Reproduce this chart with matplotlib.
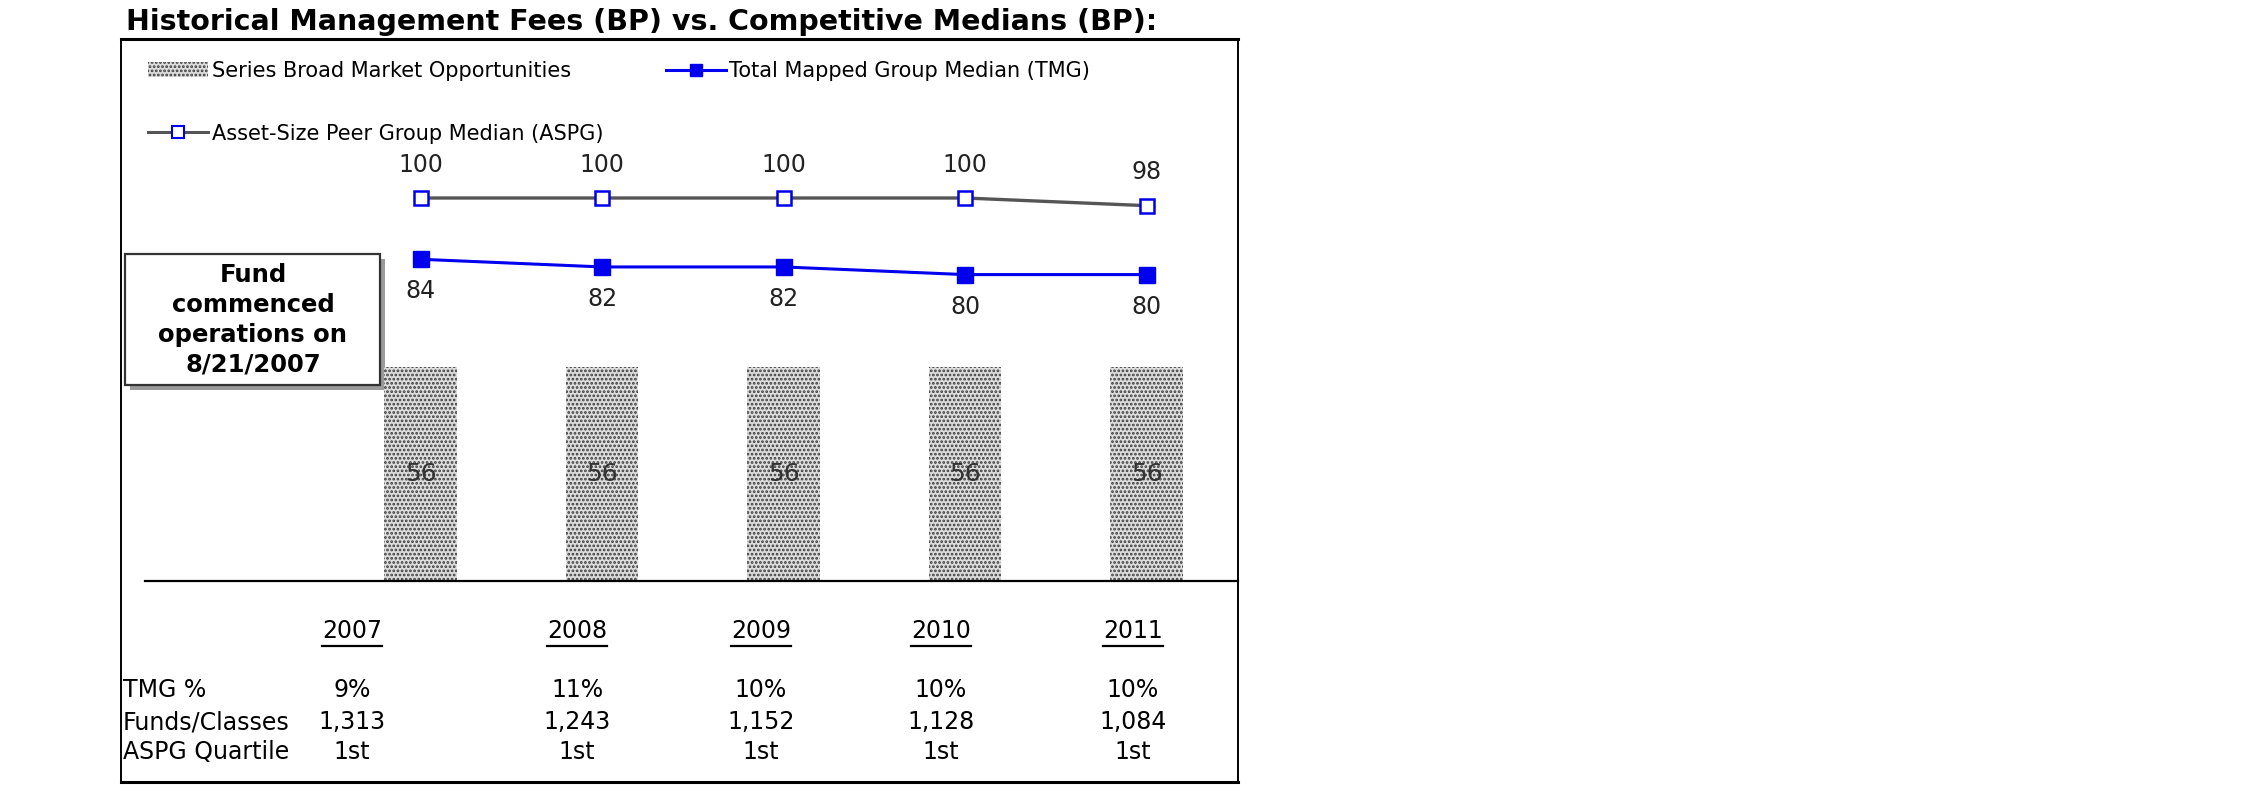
import matplotlib
matplotlib.use("Agg")
import matplotlib.pyplot as plt
from matplotlib.lines import Line2D
from matplotlib.patches import Patch, Rectangle
import numpy as np

plt.rcParams['font.family'] = ['DejaVu Sans']
plt.rcParams['hatch.linewidth'] = 1.3

# ---------------------------------------------------------------------------
# Data
# ---------------------------------------------------------------------------
YEARS = ['2007', '2008', '2009', '2010', '2011']
FUND_FEES = [56, 56, 56, 56, 56]          # Series Broad Market Opportunities
TMG_MEDIAN = [84, 82, 82, 80, 80]         # Total Mapped Group Median
ASPG_MEDIAN = [100, 100, 100, 100, 98]    # Asset-Size Peer Group Median

ROW_LABELS = ['TMG %', 'Funds/Classes', 'ASPG Quartile']
TMG_PCT = ['9%', '11%', '10%', '10%', '10%']
FUNDS_CLASSES = ['1,313', '1,243', '1,152', '1,128', '1,084']
ASPG_QUARTILE = ['1st', '1st', '1st', '1st', '1st']

TITLE = 'Historical Management Fees (BP) vs. Competitive Medians (BP):'
NOTE = 'Fund\ncommenced\noperations on\n8/21/2007'

# ---------------------------------------------------------------------------
# Layout (pixels of a 2250x796 canvas)
# ---------------------------------------------------------------------------
W, H = 2250, 796
FRAME = dict(left=121, right=1238, top=39, bottom=782)
ZERO_Y = 581                 # pixel row of value 0
PX_PER_UNIT = 3.83
X0, DX = 420.5, 181.5        # pixel centre of first category, spacing
TABLE_COLS = [352, 577, 761, 941, 1133]
YEAR_Y = 631
ROW_Y = [690, 722, 752]
TABLE_FS = 17

fig = plt.figure(figsize=(W / 100, H / 100), dpi=100)

# overlay in pixel coordinates for frame, table and note
ov = fig.add_axes([0, 0, 1, 1], zorder=0)
ov.set_xlim(0, W)
ov.set_ylim(H, 0)
ov.axis('off')

# main data axes
ax_left, ax_right = FRAME['left'], FRAME['right']
ax_h = ZERO_Y - FRAME['top']
ax = fig.add_axes([ax_left / W, 1 - ZERO_Y / H,
                   (ax_right - ax_left) / W, ax_h / H], zorder=2)
ax.patch.set_alpha(0)
ax.set_xlim((ax_left - X0) / DX, (ax_right - X0) / DX)
ax.set_ylim(0, ax_h / PX_PER_UNIT)
ax.axis('off')

x = np.arange(len(YEARS))

ax.bar(x, FUND_FEES, width=0.40, facecolor='#dcdcdc', edgecolor='#3c3c3c',
       hatch='....', linewidth=0)
for xi, v in zip(x, FUND_FEES):
    ax.text(xi, v / 2, str(v), ha='center', va='center', fontsize=18,
            color='#333333', zorder=5)

ax.plot(x, ASPG_MEDIAN, color='#555555', lw=2.4, marker='s', ms=10,
        mfc='white', mec='#0000ee', mew=1.8, zorder=4)
ax.plot(x, TMG_MEDIAN, color='#0000ee', lw=2.2, marker='s', ms=12,
        mfc='#0000ee', mec='#0000ee', zorder=4)

for xi, v in zip(x, ASPG_MEDIAN):
    ax.annotate(str(v), (xi, v), xytext=(0, 24), textcoords='offset points',
                ha='center', va='center', fontsize=17, color='#222222')
for xi, v in zip(x, TMG_MEDIAN):
    ax.annotate(str(v), (xi, v), xytext=(0, -23), textcoords='offset points',
                ha='center', va='center', fontsize=17, color='#222222')

# horizontal axis line
ax.axhline(0, xmin=(145 - ax_left) / (ax_right - ax_left), xmax=1,
           color='black', lw=1.6, clip_on=False)

# legend
handles = [
    Patch(facecolor='#dcdcdc', edgecolor='#3c3c3c', hatch='....', linewidth=0,
          label='Series Broad Market Opportunities'),
    Line2D([], [], color='#555555', lw=2.2, marker='s', ms=8, mfc='white',
           mec='#0000ee', mew=1.5, label='Asset-Size Peer Group Median (ASPG)'),
    Line2D([], [], color='#0000ee', lw=2.2, marker='s', ms=9, mfc='#0000ee',
           label='Total Mapped Group Median (TMG)'),
]
ax.legend(handles=handles, ncol=2, loc='upper left',
          bbox_to_anchor=((148 - ax_left) / (ax_right - ax_left),
                          1 - (61 - FRAME['top']) / ax_h),
          frameon=False, fontsize=15, handlelength=2.9, handletextpad=0.15,
          labelspacing=2.05, columnspacing=3.0, borderpad=0, borderaxespad=0)

# frame
ov.plot([FRAME['left'], FRAME['right']], [FRAME['top']] * 2, color='black', lw=2.2)
ov.plot([FRAME['left'], FRAME['right']], [FRAME['bottom']] * 2, color='black', lw=2.2)
ov.plot([FRAME['left']] * 2, [FRAME['top'], FRAME['bottom']], color='black', lw=1.4)
ov.plot([FRAME['right']] * 2, [FRAME['top'], FRAME['bottom']], color='black', lw=1.4)

# title
ov.text(126, 22, TITLE, ha='left', va='center', fontsize=20.5, fontweight='bold')

# note box with shadow
ov.add_patch(Rectangle((130, 259), 255, 131, facecolor='#9a9a9a', edgecolor='none'))
ov.add_patch(Rectangle((125, 254), 255, 131, facecolor='white', edgecolor='#333333', lw=1.6))
ov.text(253, 320, NOTE, ha='center', va='center', fontsize=17.5, fontweight='bold',
        linespacing=1.3)

# table
renderer = fig.canvas.get_renderer()
for cx, yr in zip(TABLE_COLS, YEARS):
    t = ov.text(cx, YEAR_Y, yr, ha='center', va='center', fontsize=TABLE_FS)
    bb = t.get_window_extent(renderer)
    ov.plot([cx - bb.width / 2, cx + bb.width / 2], [YEAR_Y + 15] * 2,
            color='black', lw=1.6)

for ry, label, vals in zip(ROW_Y, ROW_LABELS, [TMG_PCT, FUNDS_CLASSES, ASPG_QUARTILE]):
    ov.text(123, ry, label, ha='left', va='center', fontsize=TABLE_FS)
    for cx, v in zip(TABLE_COLS, vals):
        ov.text(cx, ry, v, ha='center', va='center', fontsize=TABLE_FS)

fig.savefig('out.png', dpi=100)
